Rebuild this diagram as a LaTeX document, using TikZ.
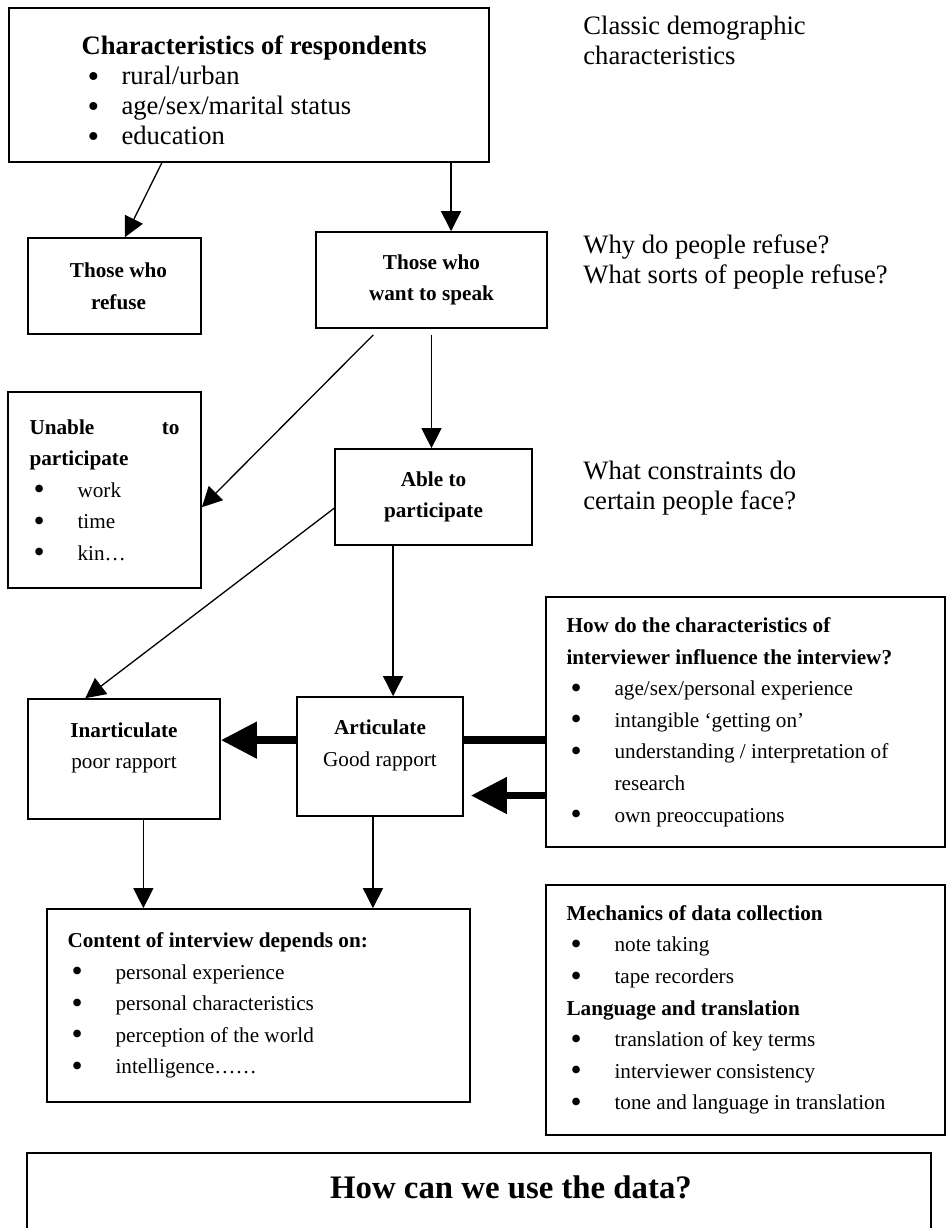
\documentclass[tikz,border=0pt]{standalone}
\usepackage{fontspec}
\usepackage{graphicx}
\setmainfont{Liberation Serif}
\usetikzlibrary{arrows.meta,calc,fit}
\newcommand\qfont{\fontsize{13.3}{15}\selectfont}
\newcommand\bxfont{\fontsize{10.6}{15.8}\selectfont}
\newcommand\bigdot[1]{\smash{\raisebox{-0.12em}{\scalebox{#1}{\textbullet}}}}
\newcommand\qbul{\hspace*{3pt}\makebox[17pt][l]{\bigdot{1.25}}}
\newcommand\bxbul{\hspace*{2pt}\makebox[22pt][l]{\bigdot{1.5}}}
\newcommand\bxind{\hspace*{24pt}}
\begin{document}
\begin{tikzpicture}[x=0.5pt,y=-0.5pt,line join=miter,
    box/.style={draw,line width=0.85pt,inner sep=0pt},
    txt/.style={inner sep=0pt,align=left,anchor=west},
    ctxt/.style={inner sep=0pt,align=center,font=\bxfont\bfseries},
    arr/.style={line width=0.65pt,-{Triangle[length=10pt,width=10pt]}},
    fat/.style={line width=3.8pt},
    fatarr/.style={fat,-{Triangle[length=18pt,width=17.5pt]}}]
    \useasboundingbox (0,0) rectangle (948,1228);
    % boxes
    \node[box,fit={(9,8) (489,162)}] (resp) {};
    \node[box,fit={(28,238) (201,334)}] (refuse) {};
    \node[box,fit={(316,232) (547,328)}] (speak) {};
    \node[box,fit={(8,392) (201,588)}] (unable) {};
    \node[box,fit={(335,449) (532,545)}] (able) {};
    \node[box,fit={(28,699) (220,819)}] (inart) {};
    \node[box,fit={(297,697) (463,816)}] (art) {};
    \node[box,fit={(546,597) (945,847)}] (how) {};
    \node[box,fit={(47,909) (470,1102)}] (content) {};
    \node[box,fit={(546,885) (945,1135)}] (mech) {};
    \node[box,fit={(27,1153) (931,1240)}] (use) {};
    % texts
    \node[txt,font=\qfont] (resptxt) at ([xshift=36.5pt,yshift=-2.5pt]resp.west) {\textbf{Characteristics of respondents}\\\qbul rural/urban\\\qbul age/sex/marital status\\\qbul education};
    \node[ctxt] (refusetxt) at ([xshift=2pt]refuse.center) {Those who\\refuse};
    \node[ctxt] (speaktxt) at (speak.center) {Those who\\want to speak};
    \node[ctxt] (abletxt) at (able.center) {Able to\\participate};
    \node[ctxt,font=\bxfont] (inarttxt) at ([yshift=5.5pt]inart.center) {\textbf{Inarticulate}\\poor rapport};
    \node[ctxt,font=\bxfont] (arttxt) at ([yshift=5.5pt]art.center) {\textbf{Articulate}\\Good rapport};
    \node[txt,font=\bxfont] (unabletxt) at ([xshift=11pt]unable.west) {\hbox to 75pt{\textbf{Unable}\hfil\textbf{to}}\\\textbf{participate}\\\bxbul work\\\bxbul time\\\bxbul kin…};
    \node[txt,font=\bxfont] (howtxt) at ([xshift=10.5pt]how.west) {\textbf{How do the characteristics of}\\\textbf{interviewer influence the interview?}\\\bxbul age/sex/personal experience\\\bxbul intangible ‘getting on’\\\bxbul understanding / interpretation of\\\bxind research\\\bxbul own preoccupations};
    \node[txt,font=\bxfont] (contenttxt) at ([xshift=10.5pt]content.west) {\textbf{Content of interview depends on:}\\\bxbul personal experience\\\bxbul personal characteristics\\\bxbul perception of the world\\\bxbul intelligence……};
    \node[txt,font=\bxfont] (mechtxt) at ([xshift=10.5pt]mech.west) {\textbf{Mechanics of data collection}\\\bxbul note taking\\\bxbul tape recorders\\\textbf{Language and translation}\\\bxbul translation of key terms\\\bxbul interviewer consistency\\\bxbul tone and language in translation};
    \node[inner sep=0pt,font=\fontsize{16.4}{19}\selectfont\bfseries] (usetxt) at ([xshift=16pt,yshift=-17.5pt]use.north) {How can we use the data?};
    \node[txt,font=\qfont] (q1) at (583,40) {Classic demographic\\characteristics};
    \node[txt,font=\qfont] (q2) at (583,262) {Why do people refuse?\\What sorts of people refuse?};
    \node[txt,font=\qfont] (q3) at (583,488) {What constraints do\\certain people face?};
    % connectors
    \coordinate (c1) at ($(speak.north west)!.584!(speak.north east)$);
    \coordinate (c2) at ($(art.north west)!.578!(art.north east)$);
    \coordinate (c3) at ($(inart.south west)!.6!(inart.south east)$);
    \coordinate (c4) at ($(art.south west)!.458!(art.south east)$);
    \coordinate (c5) at ($(how.north west)!.572!(how.south west)$);
    \coordinate (c6) at ($(how.north west)!.792!(how.south west)$);
    \draw[arr] ($(resp.south west)!.319!(resp.south east)$) -- ($(refuse.north west)!.56!(refuse.north east)$);
    \draw[arr] (c1 |- resp.south) -- (c1);
    \draw[arr] ($(speak.south west)!.25!(speak.south east)+(0,6)$) -- ($(unable.north east)!.587!(unable.south east)$);
    \draw[arr] ($(speak.south)+(0,6)$) -- (speak.south |- able.north);
    \draw[arr] ($(able.north west)!.615!(able.south west)$) -- ($(inart.north west)!.3!(inart.north east)$);
    \draw[arr] (c2 |- able.south) -- (c2);
    \draw[arr] (c3) -- (c3 |- content.north);
    \draw[arr] (c4) -- (c4 |- content.north);
    \draw[fat] (c5) -- (c5 -| art.east);
    \draw[fatarr] (c5 -| art.west) -- (c5 -| inart.east);
    \draw[fatarr] (c6) -- ($(c6 -| art.east)+(7,0)$);
\end{tikzpicture}
\end{document}
